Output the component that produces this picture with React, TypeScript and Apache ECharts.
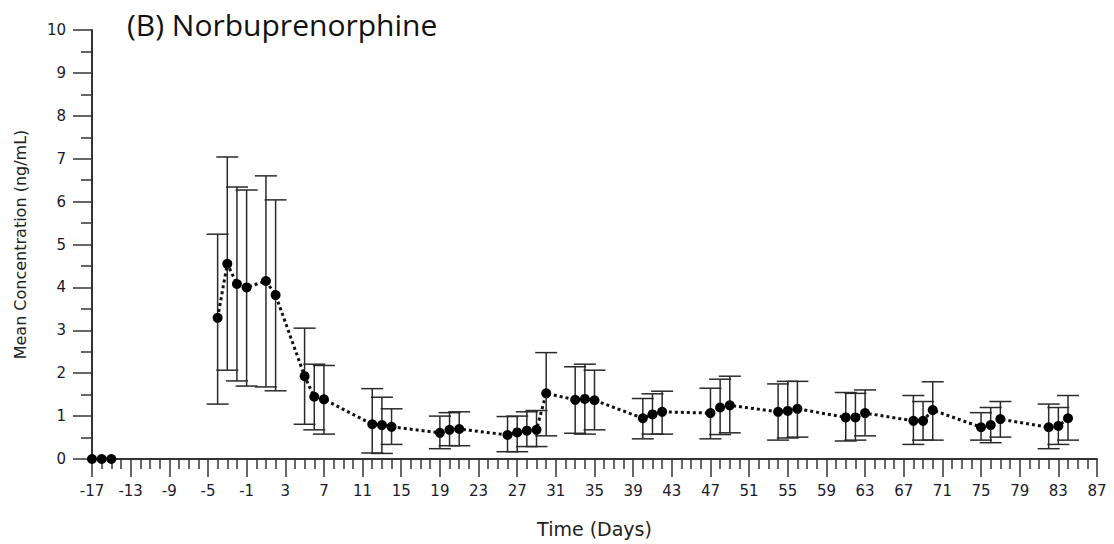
import React, { useEffect, useRef } from "react";
import * as echarts from "echarts";

const days = [-17, -16, -15, -4, -3, -2, -1, 1, 2, 5, 6, 7, 12, 13, 14, 19, 20, 21, 26, 27, 28, 29, 30, 33, 34, 35, 40, 41, 42, 47, 48, 49, 54, 55, 56, 61, 62, 63, 68, 69, 70, 75, 76, 77, 82, 83, 84];
const means = [0, 0, 0, 3.29, 4.55, 4.08, 4.0, 4.15, 3.82, 1.93, 1.45, 1.39, 0.81, 0.79, 0.75, 0.61, 0.68, 0.7, 0.56, 0.62, 0.66, 0.68, 1.53, 1.38, 1.4, 1.37, 0.95, 1.04, 1.1, 1.07, 1.2, 1.25, 1.1, 1.12, 1.17, 0.97, 0.97, 1.07, 0.89, 0.89, 1.14, 0.74, 0.79, 0.93, 0.74, 0.77, 0.95];
const upper = [null, null, null, 5.24, 7.04, 6.34, 6.27, 6.6, 6.04, 3.05, 2.21, 2.18, 1.64, 1.44, 1.17, 1.0, 1.08, 1.1, 0.99, 1.0, 1.1, 1.13, 2.48, 2.15, 2.21, 2.07, 1.41, 1.52, 1.58, 1.65, 1.86, 1.93, 1.75, 1.81, 1.81, 1.55, 1.53, 1.61, 1.48, 1.34, 1.8, 1.08, 1.2, 1.34, 1.28, 1.2, 1.48];
const lower = [null, null, null, 1.28, 2.07, 1.82, 1.7, 1.68, 1.59, 0.81, 0.68, 0.58, 0.14, 0.13, 0.34, 0.24, 0.31, 0.31, 0.17, 0.17, 0.29, 0.29, 0.54, 0.6, 0.58, 0.68, 0.47, 0.58, 0.58, 0.47, 0.57, 0.61, 0.44, 0.49, 0.51, 0.42, 0.44, 0.54, 0.34, 0.44, 0.44, 0.44, 0.38, 0.51, 0.24, 0.34, 0.44];

const titleText = "(B) Norbuprenorphine";
const xName = "Time (Days)";
const yName = "Mean Concentration (ng/mL)";

export default function App() {
  const ref = useRef<HTMLDivElement>(null);
  useEffect(() => {
    if (!ref.current) return;
    const chart = echarts.init(ref.current, null, { renderer: "svg" });
    const baseData = days.map((d, i) => [d, means[i]]).filter((_, i) => upper[i] == null);
    const lineData = days.map((d, i) => [d, means[i]]).filter((_, i) => upper[i] != null);
    const errData = days
      .map((d, i) => [d, lower[i], upper[i]])
      .filter((r) => r[1] != null && r[2] != null);
    const axisColor = "#333";
    const labelFont = "DejaVu Sans";
    const labelColor = "#1a1a2e";
    chart.setOption({
      animation: false,
      backgroundColor: "#fff",
      title: {
        text: titleText,
        left: 122,
        top: 4,
        textStyle: { fontFamily: "Open Sans", fontSize: 30, fontWeight: "normal", color: "#111" },
      },
      grid: { left: 92, right: 17, top: 30, bottom: 85, containLabel: false },
      xAxis: {
        type: "value",
        min: -17,
        max: 87,
        interval: 4,
        name: xName,
        nameLocation: "middle",
        nameGap: 60,
        nameTextStyle: { fontFamily: labelFont, fontSize: 19, color: "#222" },
        axisLine: { show: true, onZero: false, lineStyle: { color: axisColor, width: 2 } },
        axisTick: { show: true, inside: false, length: 18, lineStyle: { color: axisColor, width: 1.5 } },
        minorTick: { show: true, splitNumber: 4, length: 10, lineStyle: { color: axisColor, width: 1.5 } },
        splitLine: { show: false },
        minorSplitLine: { show: false },
        axisLabel: { margin: 24, fontFamily: labelFont, fontSize: 15, color: labelColor },
      },
      yAxis: {
        type: "value",
        min: 0,
        max: 10,
        interval: 1,
        name: yName,
        nameLocation: "middle",
        nameGap: 64,
        nameTextStyle: { fontFamily: labelFont, fontSize: 16, color: "#222" },
        axisLine: { show: true, onZero: false, lineStyle: { color: axisColor, width: 2 } },
        axisTick: { show: true, inside: false, length: 19, lineStyle: { color: axisColor, width: 1.5 } },
        minorTick: { show: true, splitNumber: 2, length: 11, lineStyle: { color: axisColor, width: 1.5 } },
        splitLine: { show: false },
        minorSplitLine: { show: false },
        axisLabel: { margin: 26, fontFamily: labelFont, fontSize: 15, color: labelColor },
      },
      series: [
        {
          type: "custom",
          z: 1,
          data: errData,
          renderItem: (params: any, api: any) => {
            const x = api.value(0);
            const lo = api.coord([x, api.value(1)]);
            const hi = api.coord([x, api.value(2)]);
            const hw = 11;
            const style = { stroke: "#2a2a2a", lineWidth: 1.5 };
            return {
              type: "group",
              children: [
                { type: "line", shape: { x1: lo[0], y1: lo[1], x2: hi[0], y2: hi[1] }, style },
                { type: "line", shape: { x1: hi[0] - hw, y1: hi[1], x2: hi[0] + hw, y2: hi[1] }, style },
                { type: "line", shape: { x1: lo[0] - hw, y1: lo[1], x2: lo[0] + hw, y2: lo[1] }, style },
              ],
            };
          },
        },
        {
          type: "line",
          z: 3,
          data: baseData,
          symbol: "circle",
          symbolSize: 10,
          itemStyle: { color: "#000" },
          lineStyle: { color: "#111", width: 3, type: "dotted" },
        },
        {
          type: "line",
          z: 3,
          data: lineData,
          symbol: "circle",
          symbolSize: 10,
          itemStyle: { color: "#000" },
          lineStyle: { color: "#111", width: 3, type: "dotted" },
        },
      ],
    });
    return () => chart.dispose();
  }, []);
  return <div ref={ref} style={{ width: 1114, height: 544, position: "absolute", left: 0, top: 0 }} />;
}
